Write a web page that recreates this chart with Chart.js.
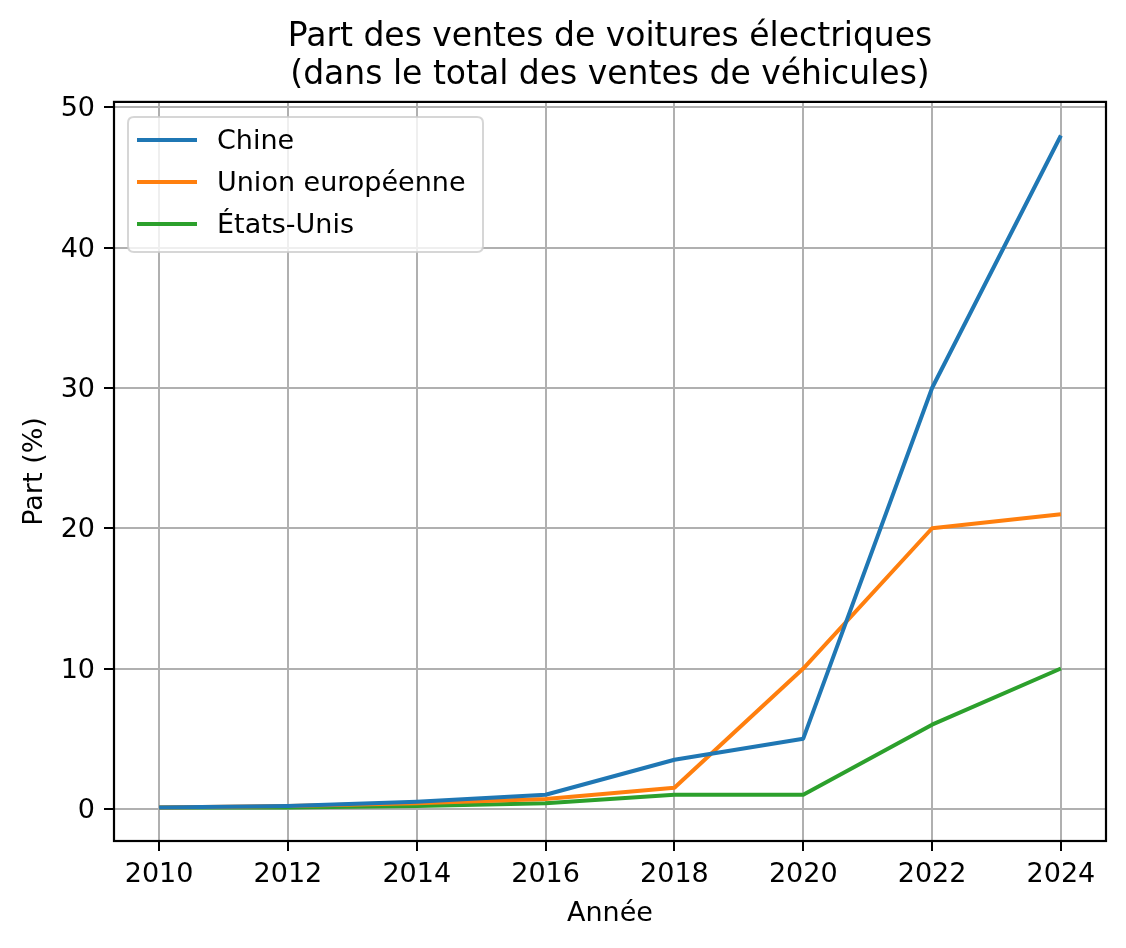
<!DOCTYPE html>
<html>
<head>
<meta charset="utf-8">
<script src="https://cdn.jsdelivr.net/npm/chart.js@4.4.1/dist/chart.umd.min.js"></script>
<style>
  html, body { margin: 0; padding: 0; background: #ffffff; }
  #wrap { width: 1126px; height: 948px; }
</style>
</head>
<body>
<div id="wrap"><canvas id="c" width="1126" height="948"></canvas></div>
<script>
const years = [2010, 2012, 2014, 2016, 2018, 2020, 2022, 2024];
const chine = [0.1, 0.2, 0.5, 1.0, 3.5, 5.0, 30.0, 48.0];
const unionEuropeenne = [0.1, 0.2, 0.4, 0.7, 1.5, 10.0, 20.0, 21.0];
const etatsUnis = [0.1, 0.1, 0.2, 0.4, 1.0, 1.0, 6.0, 10.0];
const seriesLabels = ['Chine', 'Union européenne', 'États-Unis'];
const yTicks = [0, 10, 20, 30, 40, 50];
const xTicks = [2010, 2012, 2014, 2016, 2018, 2020, 2022, 2024];

const colors = ['#1f77b4', '#ff7f0e', '#2ca02c'];
const FONT = 'DejaVu Sans';

function toPoints(vals) { return years.map((y, i) => ({ x: y, y: vals[i] })); }

const allVals = chine.concat(unionEuropeenne, etatsUnis);
const yMinData = Math.min(...allVals), yMaxData = Math.max(...allVals);
const yMargin = (yMaxData - yMinData) * 0.05;
const xMargin = (years[years.length - 1] - years[0]) * 0.05;

const framePlugin = {
  id: 'frame',
  afterDatasetsDraw(chart) {
    const { ctx, chartArea: a } = chart;
    ctx.save();
    ctx.strokeStyle = '#000000';
    ctx.lineWidth = 2.2;
    ctx.strokeRect(a.left, a.top, a.right - a.left, a.bottom - a.top);
    ctx.restore();
  }
};

const legendPlugin = {
  id: 'mplLegend',
  afterDraw(chart) {
    const { ctx, chartArea: a } = chart;
    const x0 = a.left + 14, y0 = a.top + 15, w = 355, h = 135, r = 6;
    ctx.save();
    ctx.beginPath();
    ctx.moveTo(x0 + r, y0);
    ctx.lineTo(x0 + w - r, y0);
    ctx.quadraticCurveTo(x0 + w, y0, x0 + w, y0 + r);
    ctx.lineTo(x0 + w, y0 + h - r);
    ctx.quadraticCurveTo(x0 + w, y0 + h, x0 + w - r, y0 + h);
    ctx.lineTo(x0 + r, y0 + h);
    ctx.quadraticCurveTo(x0, y0 + h, x0, y0 + h - r);
    ctx.lineTo(x0, y0 + r);
    ctx.quadraticCurveTo(x0, y0, x0 + r, y0);
    ctx.closePath();
    ctx.fillStyle = 'rgba(255,255,255,0.8)';
    ctx.fill();
    ctx.strokeStyle = 'rgba(204,204,204,0.8)';
    ctx.lineWidth = 2;
    ctx.stroke();
    ctx.font = '27px "' + FONT + '"';
    ctx.textBaseline = 'middle';
    ctx.textAlign = 'left';
    chart.data.datasets.forEach((ds, i) => {
      const cy = y0 + 23 + i * 42;
      ctx.strokeStyle = ds.borderColor;
      ctx.lineWidth = ds.borderWidth;
      ctx.beginPath();
      ctx.moveTo(x0 + 9, cy);
      ctx.lineTo(x0 + 69, cy);
      ctx.stroke();
      ctx.fillStyle = '#000000';
      ctx.fillText(ds.label, x0 + 89, cy + 2);
    });
    ctx.restore();
  }
};

new Chart(document.getElementById('c'), {
  type: 'line',
  data: {
    datasets: [
      { label: seriesLabels[0], data: toPoints(chine), borderColor: colors[0], backgroundColor: colors[0] },
      { label: seriesLabels[1], data: toPoints(unionEuropeenne), borderColor: colors[1], backgroundColor: colors[1] },
      { label: seriesLabels[2], data: toPoints(etatsUnis), borderColor: colors[2], backgroundColor: colors[2] }
    ].map(d => Object.assign(d, { borderWidth: 4, pointRadius: 0, tension: 0, fill: false, borderCapStyle: 'butt', borderJoinStyle: 'round' }))
  },
  options: {
    responsive: false,
    animation: false,
    devicePixelRatio: 1,
    layout: { padding: { left: 0, right: 20, top: 0, bottom: 0 } },
    plugins: {
      legend: { display: false },
      tooltip: { enabled: false },
      title: {
        display: true,
        fullSize: false,
        text: ['Part des ventes de voitures électriques', '(dans le total des ventes de véhicules)'],
        color: '#000000',
        font: { family: FONT, size: 33, weight: 'normal', lineHeight: 1.15 },
        padding: { top: 18, bottom: 8 }
      }
    },
    scales: {
      x: {
        type: 'linear',
        min: years[0] - xMargin,
        max: years[years.length - 1] + xMargin,
        afterBuildTicks(scale) { scale.ticks = xTicks.map(v => ({ value: v })); },
        afterFit(scale) { scale.height = 107; },
        ticks: {
          color: '#000000',
          font: { family: FONT, size: 27 },
          padding: 8,
          maxRotation: 0,
          autoSkip: false,
          includeBounds: false,
          callback: v => String(v)
        },
        grid: { color: '#b0b0b0', lineWidth: 2, drawTicks: true, tickLength: 10, tickColor: '#000000', tickWidth: 2 },
        border: { display: false },
        title: {
          display: true,
          text: 'Année',
          color: '#000000',
          font: { family: FONT, size: 27, lineHeight: 1.2 },
          padding: { top: 0, bottom: 18 }
        }
      },
      y: {
        type: 'linear',
        min: yMinData - yMargin,
        max: yMaxData + yMargin,
        afterBuildTicks(scale) { scale.ticks = yTicks.map(v => ({ value: v })); },
        afterFit(scale) { scale.width = 114; },
        ticks: {
          color: '#000000',
          font: { family: FONT, size: 27 },
          padding: 9,
          labelOffset: 2,
          includeBounds: false,
          callback: v => String(v)
        },
        grid: { color: '#b0b0b0', lineWidth: 2, drawTicks: true, tickLength: 10, tickColor: '#000000', tickWidth: 2 },
        border: { display: false },
        title: {
          display: true,
          text: 'Part (%)',
          color: '#000000',
          font: { family: FONT, size: 27, lineHeight: 1.2 },
          padding: { top: 19, bottom: 0 }
        }
      }
    }
  },
  plugins: [framePlugin, legendPlugin]
});
</script>
</body>
</html>
